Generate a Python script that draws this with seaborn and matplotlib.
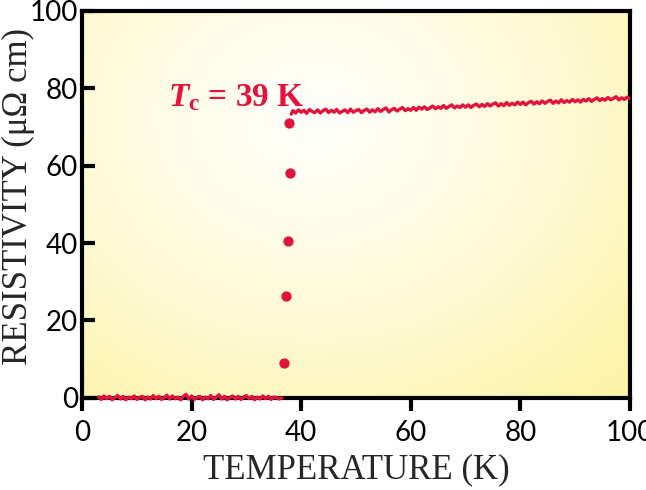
import numpy as np
import pandas as pd
import matplotlib
matplotlib.use("Agg")
import matplotlib.pyplot as plt
from matplotlib.colors import LinearSegmentedColormap
import seaborn as sns

# normal state (above Tc)
temp_high = [38.2, 38.5, 39.0, 39.5, 40.0, 40.5, 41.0, 41.5, 42.0, 42.5, 43.0, 43.5,
             44.0, 44.5, 45.0, 45.5, 46.0, 46.5, 47.0, 47.5, 48.0, 48.5, 49.0, 49.5,
             50.0, 50.5, 51.0, 51.5, 52.0, 52.5, 53.0, 53.5, 54.0, 54.5, 55.0, 55.5,
             56.0, 56.5, 57.0, 57.5, 58.0, 58.5, 59.0, 59.5, 60.0, 60.5, 61.0, 61.5,
             62.0, 62.5, 63.0, 63.5, 64.0, 64.5, 65.0, 65.5, 66.0, 66.5, 67.0, 67.5,
             68.0, 68.5, 69.0, 69.5, 70.0, 70.5, 71.0, 71.5, 72.0, 72.5, 73.0, 73.5,
             74.0, 74.5, 75.0, 75.5, 76.0, 76.5, 77.0, 77.5, 78.0, 78.5, 79.0, 79.5,
             80.0, 80.5, 81.0, 81.5, 82.0, 82.5, 83.0, 83.5, 84.0, 84.5, 85.0, 85.5,
             86.0, 86.5, 87.0, 87.5, 88.0, 88.5, 89.0, 89.5, 90.0, 90.5, 91.0, 91.5,
             92.0, 92.5, 93.0, 93.5, 94.0, 94.5, 95.0, 95.5, 96.0, 96.5, 97.0, 97.5,
             98.0, 98.5, 99.0, 99.5, 100.0]
rho_high = [73.3,
            74.2, 73.6, 74.4, 73.8, 74.3, 73.5, 74.5, 74.0, 73.7, 74.4, 73.6, 74.2,
            74.6, 73.7, 74.3, 73.8, 74.5, 73.6, 74.0, 74.4, 73.7, 74.6, 73.8, 74.2,
            74.5, 73.7, 74.3, 74.6, 73.8, 74.4, 73.9, 74.7, 74.0, 74.5, 74.9, 73.9,
            74.4, 74.8, 74.1, 74.6, 75.0, 74.2, 74.7, 74.3,
            75.0, 74.3, 75.1, 74.6, 75.2, 74.5, 74.9, 75.4, 74.7, 75.2, 74.8, 75.5,
            74.8, 75.3, 75.7, 74.9, 75.4, 75.0, 75.7, 75.1,
            75.7, 75.0, 75.6, 75.9, 75.2, 75.8, 75.3, 76.0, 75.4, 75.9, 76.2, 75.4,
            76.0, 75.5, 76.3, 75.6, 76.1, 75.7, 76.4, 75.8,
            76.4, 75.7, 76.3, 76.6, 75.9, 76.5, 76.0, 76.7, 76.1, 76.6, 76.9, 76.1,
            76.7, 76.2, 77.0, 76.3, 76.8, 76.4, 77.1, 76.5,
            77.0, 76.4, 77.1, 76.7, 77.3, 76.6, 77.1, 77.5, 76.8, 77.3, 76.9, 77.6,
            77.0, 77.4, 77.8, 77.0, 77.5, 77.1, 77.7, 77.3]

# superconducting state
temp_low = [3.0, 3.5, 4.0, 4.5, 5.0, 5.5, 6.0, 6.5, 7.0, 7.5, 8.0, 8.5, 9.0, 9.5,
            10.0, 10.5, 11.0, 11.5, 12.0, 12.5, 13.0, 13.5, 14.0, 14.5, 15.0, 15.5,
            16.0, 16.5, 17.0, 17.5, 18.0, 18.5, 19.0, 19.5, 20.0, 20.5, 21.0, 21.5,
            22.0, 22.5, 23.0, 23.5, 24.0, 24.5, 25.0, 25.5, 26.0, 26.5, 27.0, 27.5,
            28.0, 28.5, 29.0, 29.5, 30.0, 30.5, 31.0, 31.5, 32.0, 32.5, 33.0, 33.5,
            34.0, 34.5, 35.0, 35.5, 36.0, 36.5]
rho_low = [0.3, -0.4, 0.5, -0.2, 0.4, -0.5, 0.1, 0.6, -0.3, 0.4, -0.5, 0.2, -0.2,
           0.5, -0.4, 0.1, 0.4, -0.5, 0.2, -0.3, 0.6, -0.2, 0.4, -0.4, 0.1, 0.7,
           -0.3, 0.5, -0.2, 0.2, -0.5, 0.4, 0.9, -0.3, 0.5, -0.4, 0.1, 0.4, -0.5,
           0.2, -0.2, 0.6, -0.4, 0.2, 0.8, -0.3, 0.4, -0.5, 0.1, 0.5, -0.3, 0.4,
           -0.4, 0.2, 0.6, -0.2, 0.4, -0.5, 0.2, -0.3, 0.5, -0.2, 0.4, -0.4, 0.2,
           0.1, -0.3, 0.0]

# transition points
temp_tr = [36.9, 37.2, 37.6, 37.96, 37.8]
rho_tr = [9.1, 26.2, 40.6, 58.2, 71.0]

red = "#e0143c"

sns.set_style("ticks")
plt.rcParams["font.family"] = ["Liberation Serif", "DejaVu Serif"]
plt.rcParams["mathtext.fontset"] = "custom"
plt.rcParams["mathtext.rm"] = "Liberation Serif:bold"
plt.rcParams["mathtext.it"] = "Liberation Serif:italic:bold"

fig = plt.figure(figsize=(6.46, 4.90), dpi=100)
ax = fig.add_axes([0.127, 0.188, 0.848, 0.790])

# soft yellow radial background
gx, gy = np.meshgrid(np.linspace(0, 1, 300), np.linspace(0, 1, 300))
dist = np.sqrt(((gx - 0.42) / 0.8) ** 2 + ((gy - 0.72) / 0.95) ** 2)
cmap = LinearSegmentedColormap.from_list("bg", ["#fffffa", "#fefad6", "#fcf3a4"])
ax.imshow(dist, extent=[0, 1, 0, 1], origin="lower", transform=ax.transAxes,
          cmap=cmap, vmin=0.05, vmax=1.05, aspect="auto", zorder=0)

low = pd.DataFrame({"T": temp_low, "rho": rho_low})
high = pd.DataFrame({"T": temp_high, "rho": rho_high})
tr = pd.DataFrame({"T": temp_tr, "rho": rho_tr})

sns.lineplot(data=low, x="T", y="rho", color=red, lw=2.4, sort=False, ax=ax,
             zorder=5, clip_on=False)
sns.lineplot(data=high, x="T", y="rho", color=red, lw=2.4, sort=False, ax=ax, zorder=5)
sns.scatterplot(data=tr, x="T", y="rho", color=red, s=55, linewidth=0, ax=ax, zorder=5)

ax.text(15.6, 75.4, r"$T_{\rm c}$ = 39 K", color=red, fontsize=24,
        fontweight="bold", family="Liberation Serif")

ax.set_xlim(0, 100)
ax.set_ylim(0, 100)
ax.set_xticks([0, 20, 40, 60, 80, 100])
ax.set_yticks([0, 20, 40, 60, 80, 100])
ax.set_xlabel("TEMPERATURE (K)", fontsize=25, labelpad=5)
ax.set_ylabel("RESISTIVITY (μΩ cm)", fontsize=25)
ax.yaxis.set_label_coords(-0.086, 0.52)

for side in ["left", "right", "top", "bottom"]:
    ax.spines[side].set_visible(True)
    ax.spines[side].set_linewidth(3.0)
    ax.spines[side].set_color("black")
    ax.spines[side].set_zorder(4)
ax.tick_params(axis="x", direction="out", length=9, width=3.0, labelsize=20,
               pad=7, colors="black")
ax.tick_params(axis="y", direction="in", length=9, width=3.0, labelsize=20,
               pad=3, colors="black")
for lbl in ax.get_xticklabels() + ax.get_yticklabels():
    lbl.set_family(["Lato", "DejaVu Sans"])
    lbl.set_color("black")

fig.savefig("out.png", dpi=100)
